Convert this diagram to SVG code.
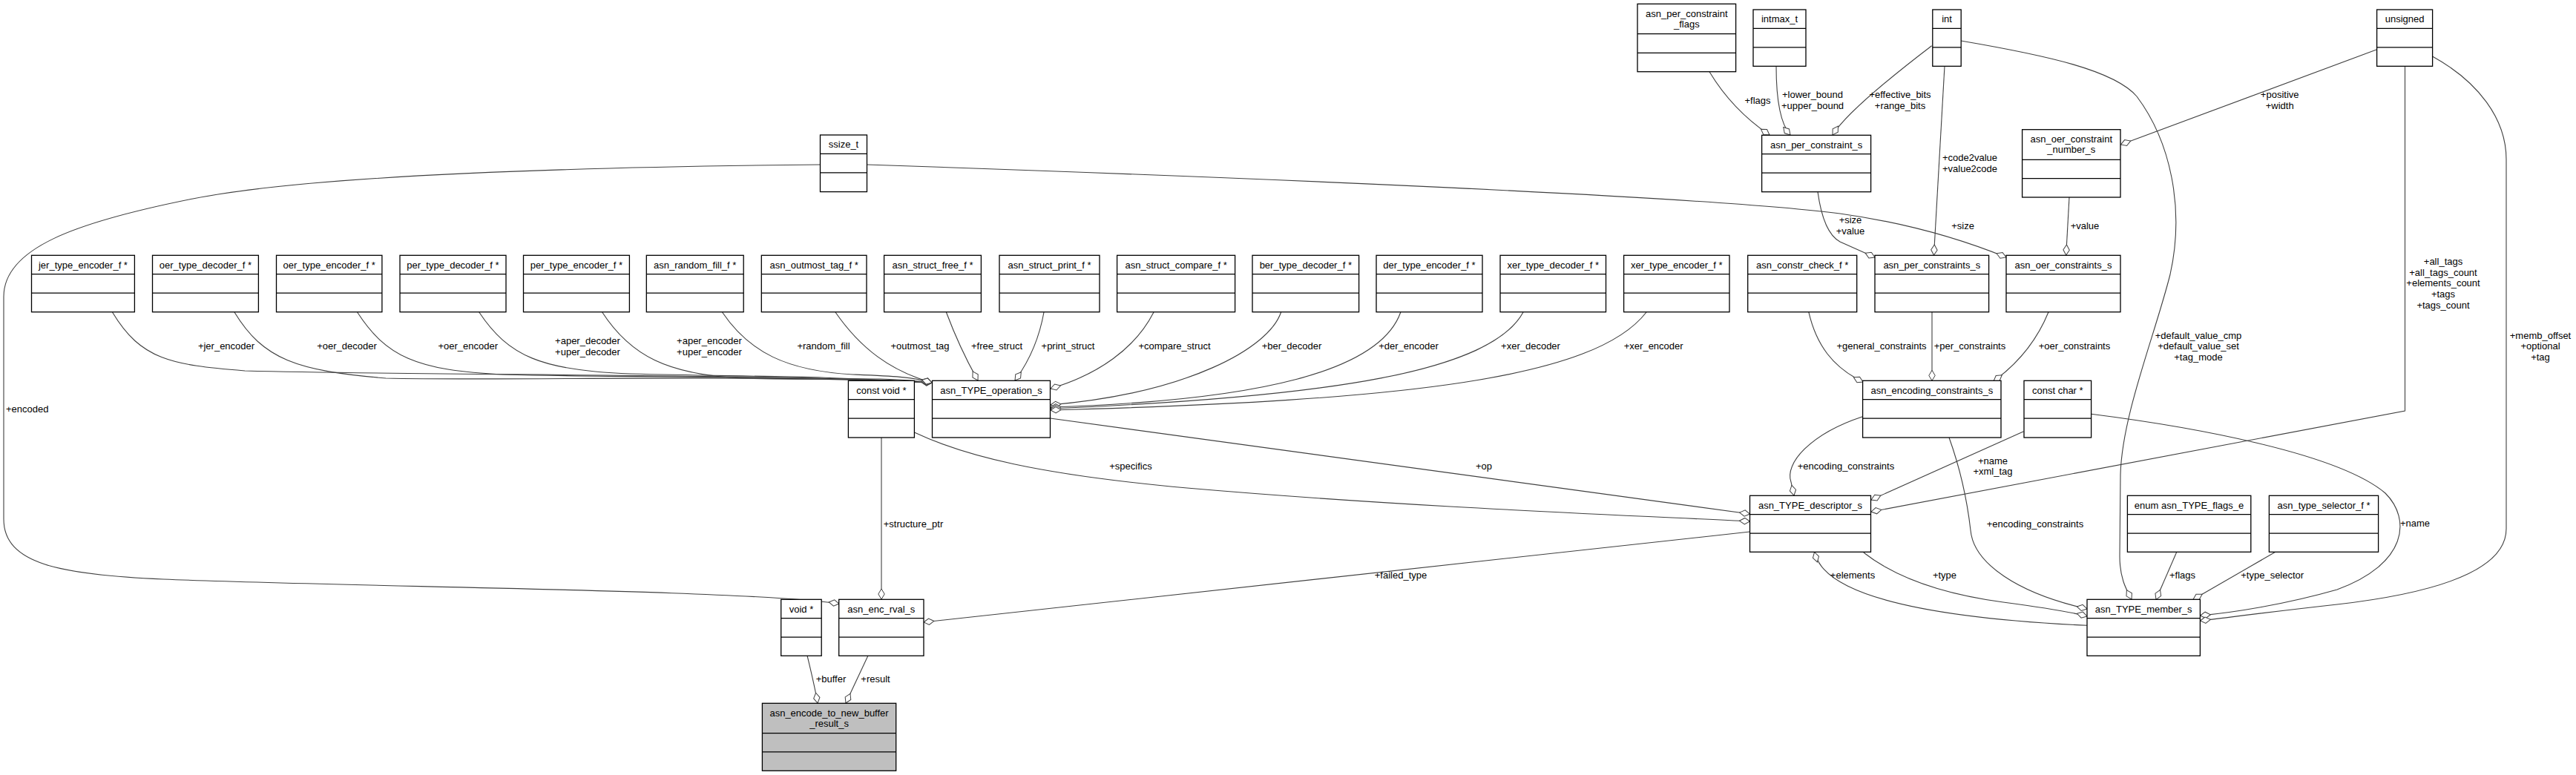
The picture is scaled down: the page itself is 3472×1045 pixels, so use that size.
<svg xmlns="http://www.w3.org/2000/svg" width="3472" height="1045" viewBox="0 0 3472 1045">
<style>
.n rect{fill:#fff;stroke:#000;stroke-width:1.3}
.n line{stroke:#000;stroke-width:1.3}
.n text{font-family:"Liberation Sans",Arial,sans-serif;font-size:13px;text-anchor:middle;fill:#000}
.main rect{fill:#bfbfbf}
.e{fill:none;stroke:#404040;stroke-width:1.1;marker-end:url(#d)}
.p{fill:none;stroke:#404040;stroke-width:1.1}
.l text{font-family:"Liberation Sans",Arial,sans-serif;font-size:13px;text-anchor:middle;fill:#000}
</style>
<defs>
<marker id="d" markerUnits="userSpaceOnUse" viewBox="0 0 16 10" markerWidth="16" markerHeight="10" refX="15" refY="5" orient="auto">
<path d="M1,5 L8,0.8 L15,5 L8,9.2 Z" fill="#fff" stroke="#404040" stroke-width="1"/>
</marker>
</defs>
<rect width="3472" height="1045" fill="#fff"/>

<g id="edges">
<path class="e" d="M151.5,421 C190,485 230,492 330,500 C600,507 1000,503 1256,516"/>
<path class="e" d="M316,421 C355,485 400,500 520,510 C700,514 1000,504 1256,516"/>
<path class="e" d="M481.6,421 C520,480 560,500 680,505 C850,510 1050,505 1256,516"/>
<path class="e" d="M645.8,421 C685,480 730,500 850,504 C1000,508 1100,506 1256,516"/>
<path class="e" d="M811.7,421 C850,480 900,505 1000,510 C1100,514 1180,506 1256,516"/>
<path class="e" d="M973.5,421 C1010,475 1060,500 1150,505 C1200,507 1230,508 1256,516"/>
<path class="e" d="M1126,421 C1160,470 1200,500 1256,516"/>
<path class="e" d="M1275.4,421 C1290,460 1305,490 1318,513"/>
<path class="e" d="M1407,421 C1400,460 1385,490 1368,513"/>
<path class="e" d="M1555,421 C1530,470 1480,505 1416,524"/>
<path class="e" d="M1726.6,421 C1710,470 1600,530 1416,546"/>
<path class="e" d="M1887.8,421 C1860,500 1700,540 1416,549"/>
<path class="e" d="M2053,421 C2010,500 1800,535 1416,551"/>
<path class="e" d="M2219,421 C2150,510 1900,540 1416,553"/>
<path class="e" d="M1105.5,222 C700,226 400,240 260,268 C100,300 5,335 5,400 L5,700 C5,760 80,775 220,781 C500,792 1000,795 1131,814"/>
<path class="e" d="M1188,590 L1188,808"/>
<path class="e" d="M1232.4,583 C1300,615 1400,640 1600,658 C1900,684 2200,695 2358.5,703"/>
<path class="e" d="M1415.5,564 L2358.5,693"/>
<path class="e" d="M2358.5,717 L1245,839"/>
<path class="e" d="M1088,884 C1093,905 1098,925 1102,948"/>
<path class="e" d="M1170,884 L1140,948"/>
<path class="e" d="M2304,96.7 C2330,140 2360,165 2385,182"/>
<path class="e" d="M2394,89.3 C2394,130 2398,165 2413,182"/>
<path class="e" d="M2603.6,61.7 C2560,95 2490,150 2470,182"/>
<path class="e" d="M2621,89.3 L2606.5,344"/>
<path class="e" d="M1168.6,222 C1700,240 2300,265 2480,288 C2580,302 2650,325 2704,347"/>
<path class="e" d="M2450,258.7 C2455,295 2465,318 2480,326 L2527,347"/>
<path class="e" d="M2789,266 L2784.7,344"/>
<path class="e" d="M3203.6,66.7 L2858.5,195"/>
<path class="e" d="M2437.8,420.7 C2448,465 2470,495 2511,515"/>
<path class="e" d="M2604,420.7 L2604,513.3"/>
<path class="e" d="M2761,420.7 C2745,460 2720,490 2687,514"/>
<path class="e" d="M2510.5,561.7 C2440,585 2405,625 2414,650 L2418,668"/>
<path class="e" d="M2727.5,581.7 L2522,674"/>
<path class="e" d="M3241.5,89.3 L3241.5,554 L2522,690"/>
<path class="e" d="M2627,590 C2645,640 2652,680 2656,715 C2660,760 2720,800 2813,821"/>
<path class="e" d="M2818.6,558.3 C2950,575 3150,610 3215,665 C3250,700 3245,760 3150,795 C3080,815 3010,826 2965.5,830"/>
<path class="e" d="M3278.5,76 C3340,110 3378,160 3378,215 L3378,713 C3378,770 3280,800 3150,815 C3060,825 3000,833 2965.5,837"/>
<path class="e" d="M2643,55 C2760,75 2850,95 2880,130 C2925,190 2945,280 2925,370 C2905,450 2860,560 2858,640 L2857,750 C2857,780 2866,795 2873,808"/>
<path class="e" d="M2933.8,744.3 L2906,808.3"/>
<path class="e" d="M3066.8,744.3 L2956,808.3"/>
<path class="e" d="M2813,843.3 C2700,838 2560,825 2490,790 C2460,775 2450,760 2445.5,744.5"/>
<path class="e" d="M2511.8,745 C2550,775 2610,800 2700,812 C2760,820 2795,826 2813,831"/>
</g>

<g class="l">
<text x="305" y="471">+jer_encoder</text>
<text x="467.5" y="471">+oer_decoder</text>
<text x="630.7" y="471">+oer_encoder</text>
<text x="792" y="464">+aper_decoder</text>
<text x="792" y="478.5">+uper_decoder</text>
<text x="956" y="464">+aper_encoder</text>
<text x="956" y="478.5">+uper_encoder</text>
<text x="1110" y="471">+random_fill</text>
<text x="1240" y="471">+outmost_tag</text>
<text x="1343.5" y="471">+free_struct</text>
<text x="1439.5" y="471">+print_struct</text>
<text x="1583" y="471">+compare_struct</text>
<text x="1741" y="471">+ber_decoder</text>
<text x="1898.5" y="471">+der_encoder</text>
<text x="2063" y="471">+xer_decoder</text>
<text x="2228.7" y="471">+xer_encoder</text>
<text x="2536" y="471">+general_constraints</text>
<text x="2655" y="471">+per_constraints</text>
<text x="2796" y="471">+oer_constraints</text>
<text x="2488" y="633">+encoding_constraints</text>
<text x="2686" y="625.5">+name</text>
<text x="2686" y="640">+xml_tag</text>
<text x="2743" y="710.5">+encoding_constraints</text>
<text x="2000" y="633">+op</text>
<text x="1524" y="633">+specifics</text>
<text x="1888" y="780">+failed_type</text>
<text x="1231" y="710.5">+structure_ptr</text>
<text x="1120" y="920">+buffer</text>
<text x="1180" y="920">+result</text>
<text x="36.7" y="555.5">+encoded</text>
<text x="2497" y="780">+elements</text>
<text x="2621" y="780">+type</text>
<text x="2941.5" y="780">+flags</text>
<text x="3062.7" y="780">+type_selector</text>
<text x="3255" y="710">+name</text>
<text x="3424" y="456.5">+memb_offset</text>
<text x="3424" y="471">+optional</text>
<text x="3424" y="485.5">+tag</text>
<text x="2963" y="456.5">+default_value_cmp</text>
<text x="2963" y="471">+default_value_set</text>
<text x="2963" y="485.5">+tag_mode</text>
<text x="3293" y="356.8">+all_tags</text>
<text x="3293" y="371.5">+all_tags_count</text>
<text x="3293" y="386.2">+elements_count</text>
<text x="3293" y="401">+tags</text>
<text x="3293" y="415.5">+tags_count</text>
<text x="3072.7" y="132">+positive</text>
<text x="3072.7" y="146.8">+width</text>
<text x="2810" y="309">+value</text>
<text x="2645.6" y="309">+size</text>
<text x="2494" y="301">+size</text>
<text x="2494" y="316">+value</text>
<text x="2655" y="217">+code2value</text>
<text x="2655" y="231.5">+value2code</text>
<text x="2369" y="139.5">+flags</text>
<text x="2443" y="132">+lower_bound</text>
<text x="2443" y="146.8">+upper_bound</text>
<text x="2561" y="132">+effective_bits</text>
<text x="2561" y="146.8">+range_bits</text>
</g>

<g id="n_jer" class="n" transform="translate(42.5,344.3)"><rect width="138.9" height="76.4"/><line x1="0" y1="25.4" x2="138.9" y2="25.4"/><line x1="0" y1="50.8" x2="138.9" y2="50.8"/><text x="69.45" y="17.3">jer_type_encoder_f *</text></g>
<g id="n_oer_dec" class="n" transform="translate(205.5,344.3)"><rect width="142.9" height="76.4"/><line x1="0" y1="25.4" x2="142.9" y2="25.4"/><line x1="0" y1="50.8" x2="142.9" y2="50.8"/><text x="71.45" y="17.3">oer_type_decoder_f *</text></g>
<g id="n_oer_enc" class="n" transform="translate(372.5,344.3)"><rect width="142.4" height="76.4"/><line x1="0" y1="25.4" x2="142.4" y2="25.4"/><line x1="0" y1="50.8" x2="142.4" y2="50.8"/><text x="71.2" y="17.3">oer_type_encoder_f *</text></g>
<g id="n_per_dec" class="n" transform="translate(539,344.3)"><rect width="143" height="76.4"/><line x1="0" y1="25.4" x2="143" y2="25.4"/><line x1="0" y1="50.8" x2="143" y2="50.8"/><text x="71.5" y="17.3">per_type_decoder_f *</text></g>
<g id="n_per_enc" class="n" transform="translate(705.5,344.3)"><rect width="142.9" height="76.4"/><line x1="0" y1="25.4" x2="142.9" y2="25.4"/><line x1="0" y1="50.8" x2="142.9" y2="50.8"/><text x="71.45" y="17.3">per_type_encoder_f *</text></g>
<g id="n_random_fill" class="n" transform="translate(871.3,344.3)"><rect width="130.9" height="76.4"/><line x1="0" y1="25.4" x2="130.9" y2="25.4"/><line x1="0" y1="50.8" x2="130.9" y2="50.8"/><text x="65.45" y="17.3">asn_random_fill_f *</text></g>
<g id="n_outmost_tag" class="n" transform="translate(1026.3,344.3)"><rect width="141.7" height="76.4"/><line x1="0" y1="25.4" x2="141.7" y2="25.4"/><line x1="0" y1="50.8" x2="141.7" y2="50.8"/><text x="70.85" y="17.3">asn_outmost_tag_f *</text></g>
<g id="n_struct_free" class="n" transform="translate(1191.6,344.3)"><rect width="130.8" height="76.4"/><line x1="0" y1="25.4" x2="130.8" y2="25.4"/><line x1="0" y1="50.8" x2="130.8" y2="50.8"/><text x="65.4" y="17.3">asn_struct_free_f *</text></g>
<g id="n_struct_print" class="n" transform="translate(1347,344.3)"><rect width="135" height="76.4"/><line x1="0" y1="25.4" x2="135" y2="25.4"/><line x1="0" y1="50.8" x2="135" y2="50.8"/><text x="67.5" y="17.3">asn_struct_print_f *</text></g>
<g id="n_struct_compare" class="n" transform="translate(1505.6,344.3)"><rect width="159" height="76.4"/><line x1="0" y1="25.4" x2="159" y2="25.4"/><line x1="0" y1="50.8" x2="159" y2="50.8"/><text x="79.5" y="17.3">asn_struct_compare_f *</text></g>
<g id="n_ber_dec" class="n" transform="translate(1688,344.3)"><rect width="143.6" height="76.4"/><line x1="0" y1="25.4" x2="143.6" y2="25.4"/><line x1="0" y1="50.8" x2="143.6" y2="50.8"/><text x="71.8" y="17.3">ber_type_decoder_f *</text></g>
<g id="n_der_enc" class="n" transform="translate(1855,344.3)"><rect width="143" height="76.4"/><line x1="0" y1="25.4" x2="143" y2="25.4"/><line x1="0" y1="50.8" x2="143" y2="50.8"/><text x="71.5" y="17.3">der_type_encoder_f *</text></g>
<g id="n_xer_dec" class="n" transform="translate(2022,344.3)"><rect width="142.5" height="76.4"/><line x1="0" y1="25.4" x2="142.5" y2="25.4"/><line x1="0" y1="50.8" x2="142.5" y2="50.8"/><text x="71.25" y="17.3">xer_type_decoder_f *</text></g>
<g id="n_xer_enc" class="n" transform="translate(2188.6,344.3)"><rect width="142.4" height="76.4"/><line x1="0" y1="25.4" x2="142.4" y2="25.4"/><line x1="0" y1="50.8" x2="142.4" y2="50.8"/><text x="71.2" y="17.3">xer_type_encoder_f *</text></g>
<g id="n_constr_check" class="n" transform="translate(2355.7,344.3)"><rect width="147" height="76.4"/><line x1="0" y1="25.4" x2="147" y2="25.4"/><line x1="0" y1="50.8" x2="147" y2="50.8"/><text x="73.5" y="17.3">asn_constr_check_f *</text></g>
<g id="n_per_constraints_s" class="n" transform="translate(2527,344.3)"><rect width="153.6" height="76.4"/><line x1="0" y1="25.4" x2="153.6" y2="25.4"/><line x1="0" y1="50.8" x2="153.6" y2="50.8"/><text x="76.8" y="17.3">asn_per_constraints_s</text></g>
<g id="n_oer_constraints_s" class="n" transform="translate(2704,344.3)"><rect width="154" height="76.4"/><line x1="0" y1="25.4" x2="154" y2="25.4"/><line x1="0" y1="50.8" x2="154" y2="50.8"/><text x="77" y="17.3">asn_oer_constraints_s</text></g>
<g id="n_ssize_t" class="n" transform="translate(1105.5,182)"><rect width="63" height="76.6"/><line x1="0" y1="25.4" x2="63" y2="25.4"/><line x1="0" y1="50.8" x2="63" y2="50.8"/><text x="31.5" y="17.3">ssize_t</text></g>
<g id="n_per_constraint_flags" class="n" transform="translate(2207,5.3)"><rect width="132.6" height="91.4"/><line x1="0" y1="40.4" x2="132.6" y2="40.4"/><line x1="0" y1="66" x2="132.6" y2="66"/><text x="66.3" y="17.3">asn_per_constraint</text><text x="66.3" y="31.8">_flags</text></g>
<g id="n_intmax_t" class="n" transform="translate(2363,13)"><rect width="71" height="76.3"/><line x1="0" y1="25.4" x2="71" y2="25.4"/><line x1="0" y1="50.8" x2="71" y2="50.8"/><text x="35.5" y="17.3">intmax_t</text></g>
<g id="n_int" class="n" transform="translate(2604.8,13)"><rect width="38.4" height="76.3"/><line x1="0" y1="25.4" x2="38.4" y2="25.4"/><line x1="0" y1="50.8" x2="38.4" y2="50.8"/><text x="19.2" y="17.3">int</text></g>
<g id="n_unsigned" class="n" transform="translate(3203.6,13)"><rect width="75" height="76.3"/><line x1="0" y1="25.4" x2="75" y2="25.4"/><line x1="0" y1="50.8" x2="75" y2="50.8"/><text x="37.5" y="17.3">unsigned</text></g>
<g id="n_per_constraint_s" class="n" transform="translate(2374.6,182.3)"><rect width="147" height="76.4"/><line x1="0" y1="25.4" x2="147" y2="25.4"/><line x1="0" y1="50.8" x2="147" y2="50.8"/><text x="73.5" y="17.3">asn_per_constraint_s</text></g>
<g id="n_oer_constraint_number_s" class="n" transform="translate(2725.6,174.7)"><rect width="132.4" height="91.3"/><line x1="0" y1="40.6" x2="132.4" y2="40.6"/><line x1="0" y1="66" x2="132.4" y2="66"/><text x="66.2" y="17.3">asn_oer_constraint</text><text x="66.2" y="31.8">_number_s</text></g>
<g id="n_const_void" class="n" transform="translate(1143.4,513.3)"><rect width="89" height="76.7"/><line x1="0" y1="25.4" x2="89" y2="25.4"/><line x1="0" y1="50.8" x2="89" y2="50.8"/><text x="44.5" y="17.3">const void *</text></g>
<g id="n_type_operation_s" class="n" transform="translate(1256.5,513.3)"><rect width="159" height="76.7"/><line x1="0" y1="25.4" x2="159" y2="25.4"/><line x1="0" y1="50.8" x2="159" y2="50.8"/><text x="79.5" y="17.3">asn_TYPE_operation_s</text></g>
<g id="n_encoding_constraints_s" class="n" transform="translate(2510.6,513.3)"><rect width="186.4" height="76.7"/><line x1="0" y1="25.4" x2="186.4" y2="25.4"/><line x1="0" y1="50.8" x2="186.4" y2="50.8"/><text x="93.2" y="17.3">asn_encoding_constraints_s</text></g>
<g id="n_const_char" class="n" transform="translate(2728,513.3)"><rect width="90.6" height="76.7"/><line x1="0" y1="25.4" x2="90.6" y2="25.4"/><line x1="0" y1="50.8" x2="90.6" y2="50.8"/><text x="45.3" y="17.3">const char *</text></g>
<g id="n_type_descriptor_s" class="n" transform="translate(2358.5,668.3)"><rect width="163" height="76"/><line x1="0" y1="25.4" x2="163" y2="25.4"/><line x1="0" y1="50.8" x2="163" y2="50.8"/><text x="81.5" y="17.3">asn_TYPE_descriptor_s</text></g>
<g id="n_type_flags_e" class="n" transform="translate(2867.4,668.3)"><rect width="166.4" height="76"/><line x1="0" y1="25.4" x2="166.4" y2="25.4"/><line x1="0" y1="50.8" x2="166.4" y2="50.8"/><text x="83.2" y="17.3">enum asn_TYPE_flags_e</text></g>
<g id="n_type_selector" class="n" transform="translate(3058.4,668.3)"><rect width="147.2" height="76"/><line x1="0" y1="25.4" x2="147.2" y2="25.4"/><line x1="0" y1="50.8" x2="147.2" y2="50.8"/><text x="73.6" y="17.3">asn_type_selector_f *</text></g>
<g id="n_type_member_s" class="n" transform="translate(2813,808.3)"><rect width="152.4" height="76"/><line x1="0" y1="25.4" x2="152.4" y2="25.4"/><line x1="0" y1="50.8" x2="152.4" y2="50.8"/><text x="76.2" y="17.3">asn_TYPE_member_s</text></g>
<g id="n_void" class="n" transform="translate(1052.7,808.3)"><rect width="54.5" height="76"/><line x1="0" y1="25.4" x2="54.5" y2="25.4"/><line x1="0" y1="50.8" x2="54.5" y2="50.8"/><text x="27.25" y="17.3">void *</text></g>
<g id="n_enc_rval_s" class="n" transform="translate(1130.7,808.3)"><rect width="114.3" height="76"/><line x1="0" y1="25.4" x2="114.3" y2="25.4"/><line x1="0" y1="50.8" x2="114.3" y2="50.8"/><text x="57.15" y="17.3">asn_enc_rval_s</text></g>
<g id="n_encode_result_s" class="n main" transform="translate(1027.4,948.3)"><rect width="180.3" height="91"/><line x1="0" y1="40.4" x2="180.3" y2="40.4"/><line x1="0" y1="65.6" x2="180.3" y2="65.6"/><text x="90.15" y="17.3">asn_encode_to_new_buffer</text><text x="90.15" y="31.8">_result_s</text></g>
</svg>
